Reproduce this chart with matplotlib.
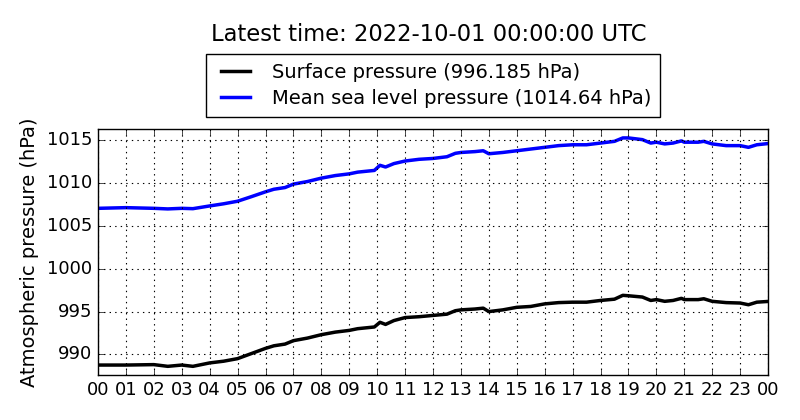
import matplotlib
matplotlib.use("Agg")
import matplotlib.pyplot as plt

plt.style.use("classic")

# hours since 2022-09-30 00:00 UTC
t_blue = [0, 1, 2, 2.5, 3, 3.4, 4, 4.5, 5, 5.5, 6, 6.3, 6.7, 7, 7.5, 8, 8.5, 9, 9.3, 9.9,
          10.1, 10.3, 10.6, 11, 11.5, 12, 12.5, 12.8, 13, 13.5, 13.8, 14, 14.5, 15, 15.5,
          16, 16.5, 17, 17.5, 18, 18.5, 18.8, 19, 19.5, 19.8, 20, 20.3, 20.6, 20.9, 21,
          21.5, 21.7, 22, 22.5, 23, 23.3, 23.6, 24]
msl = [1007.07, 1007.15, 1007.07, 1007.0, 1007.07, 1007.03, 1007.35, 1007.6, 1007.9, 1008.44,
       1009.0, 1009.3, 1009.5, 1009.9, 1010.2, 1010.6, 1010.9, 1011.1, 1011.3, 1011.5,
       1012.1, 1011.9, 1012.3, 1012.6, 1012.8, 1012.9, 1013.1, 1013.5, 1013.6, 1013.7,
       1013.8, 1013.45, 1013.6, 1013.8, 1014.0, 1014.2, 1014.4, 1014.5, 1014.5, 1014.7,
       1014.9, 1015.3, 1015.3, 1015.1, 1014.7, 1014.8, 1014.6, 1014.7, 1014.95, 1014.8,
       1014.8, 1014.9, 1014.6, 1014.4, 1014.4, 1014.2, 1014.5, 1014.64]

t_black = t_blue
surface = [988.75, 988.75, 988.8, 988.6, 988.75, 988.6, 989.0, 989.2, 989.5, 990.1,
           990.7, 991.0, 991.2, 991.6, 991.9, 992.3, 992.6, 992.8, 993.0, 993.2,
           993.75, 993.5, 993.95, 994.3, 994.4, 994.55, 994.7, 995.1, 995.2, 995.3,
           995.4, 995.0, 995.2, 995.5, 995.6, 995.9, 996.05, 996.1, 996.1, 996.3,
           996.45, 996.9, 996.85, 996.7, 996.3, 996.4, 996.2, 996.3, 996.55, 996.4,
           996.4, 996.5, 996.2, 996.05, 996.0, 995.8, 996.1, 996.185]

xtick_labels = ["%02d" % h for h in range(24)] + ["00"]
ytick_values = [990, 995, 1000, 1005, 1010, 1015]
title = "Latest time: 2022-10-01 00:00:00 UTC"

fig = plt.figure(figsize=(8, 4.2), dpi=100, facecolor="white")
ax = fig.add_axes([0.1225, 0.107, 0.8375, 0.586])

ax.plot(t_black, surface, color="black", lw=2.5, label="Surface pressure (996.185 hPa)")
ax.plot(t_blue, msl, color="blue", lw=2.5, label="Mean sea level pressure (1014.64 hPa)")

ax.set_xlim(0, 24)
ax.set_ylim(987.58, 1016.35)
ax.set_xticks(range(25))
ax.set_xticklabels(xtick_labels, fontsize=13)
ax.set_yticks(ytick_values)
ax.set_yticklabels([str(v) for v in ytick_values], fontsize=13)
ax.grid(True, linestyle=":", color="black", lw=0.8)
ax.set_ylabel("Atmospheric pressure (hPa)", fontsize=14)
ax.yaxis.set_label_coords(-0.088, 0.5)

leg = ax.legend(loc="lower center", bbox_to_anchor=(0.5, 1.01), fontsize=14,
                handlelength=2.1, borderpad=0.45, labelspacing=0.35, frameon=True)
leg.get_frame().set_linewidth(1)
fig.text(0.5356, 0.918, title, ha="center", va="center", fontsize=16.3)

fig.savefig("out.png", dpi=100, facecolor="white")
